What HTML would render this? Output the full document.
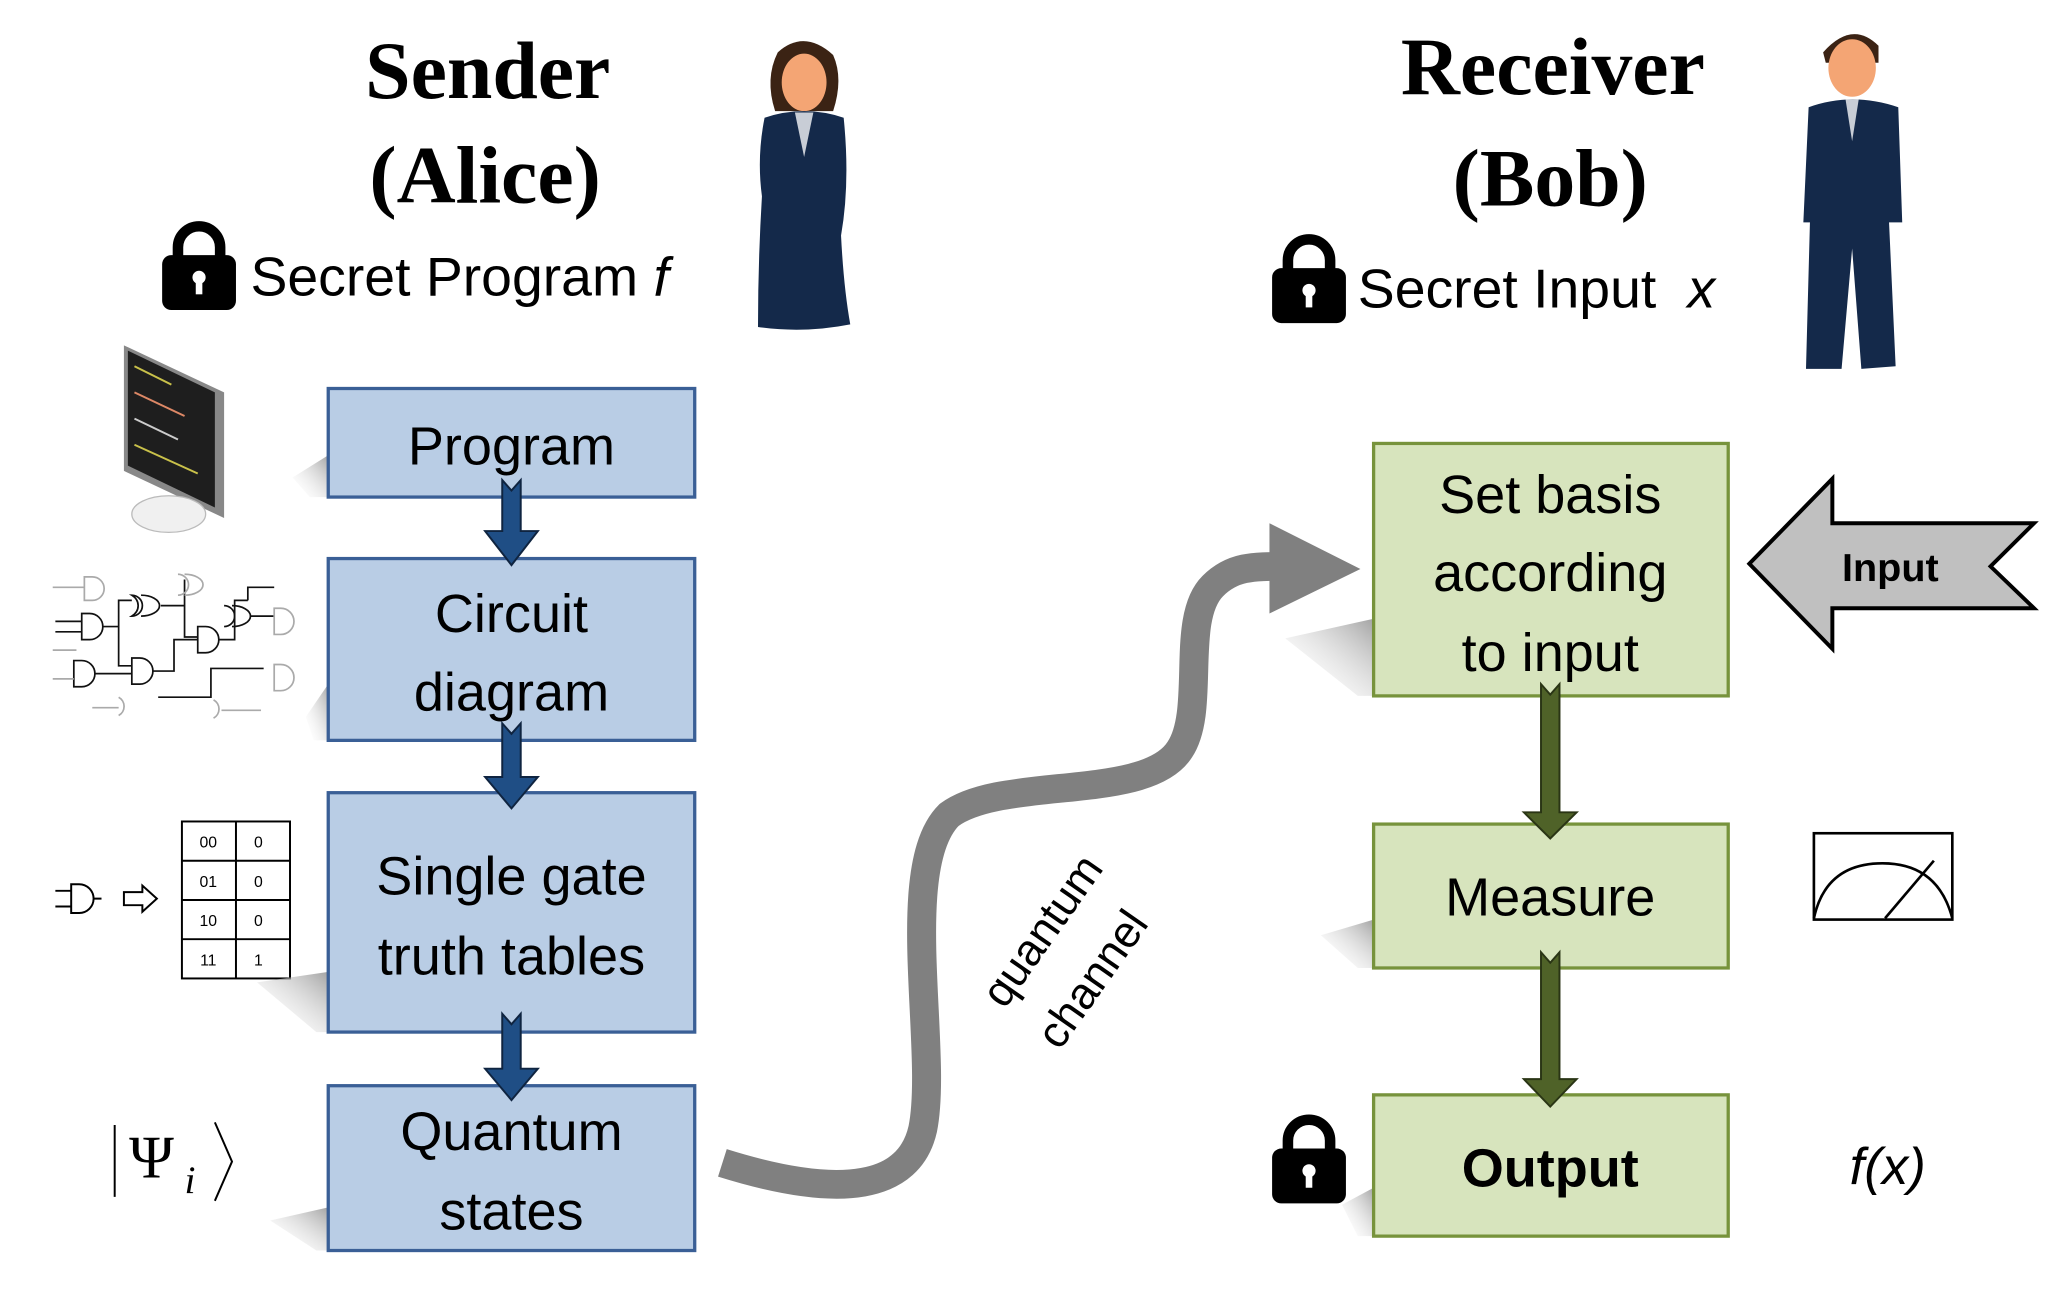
<!DOCTYPE html>
<html><head><meta charset="utf-8"><style>
html,body{margin:0;padding:0;background:#fff;}
svg{display:block;}
text{font-family:"Liberation Sans",sans-serif;}
</style></head><body>
<svg width="2067" height="1295" viewBox="0 0 1568 990" preserveAspectRatio="none" xmlns="http://www.w3.org/2000/svg">
<defs>
<linearGradient id="sh" x1="1" y1="0" x2="0" y2="1"><stop offset="0" stop-color="#999" stop-opacity="0.9"/><stop offset="1" stop-color="#fff" stop-opacity="0"/></linearGradient>
<g id="lock"><path d="M12 30 V22 a16 16 0 0 1 32 0 V30" fill="none" stroke="#000" stroke-width="8"/><rect x="0" y="28" width="56" height="42" rx="7" fill="#000"/><circle cx="28" cy="45" r="5" fill="#fff"/><rect x="25.5" y="46" width="5" height="12" fill="#fff"/></g>
</defs>
<g transform="translate(0,3)">
<!-- titles -->
<text x="370" y="72" font-weight="bold" font-size="62" text-anchor="middle" style="font-family:'Liberation Serif',serif">Sender</text>
<text x="368" y="152" font-weight="bold" font-size="62" text-anchor="middle" style="font-family:'Liberation Serif',serif">(Alice)</text>
<use href="#lock" x="123" y="164"/>
<text x="190" y="223" font-size="42">Secret Program <tspan font-style="italic">f</tspan></text>
<text x="1178" y="69" font-weight="bold" font-size="62" text-anchor="middle" style="font-family:'Liberation Serif',serif">Receiver</text>
<text x="1176" y="154" font-weight="bold" font-size="62" text-anchor="middle" style="font-family:'Liberation Serif',serif">(Bob)</text>
<use href="#lock" x="965" y="174"/>
<text x="1030" y="232" font-size="42">Secret Input <tspan dx="12" font-style="italic">x</tspan></text>
<!-- Alice -->
<path d="M590 37 Q610 19 632 39 Q640 57 632 82 L588 82 Q580 57 590 37Z" fill="#3b2314"/>
<ellipse cx="610" cy="60" rx="17" ry="22" fill="#f4a574"/>
<path d="M580 87 Q610 77 640 87 Q645 137 638 177 Q640 217 645 245 Q610 252 575 247 Q575 197 578 147 Q574 117 580 87Z" fill="#14294a"/>
<path d="M603 83 L610 117 L617 83Z" fill="#c8cdd6"/>
<!-- Bob -->
<path d="M1383 37 Q1405 12 1425 32 L1425 45 L1385 45Z" fill="#3b2314"/>
<ellipse cx="1405" cy="49" rx="18" ry="22" fill="#f4a574"/>
<path d="M1372 79 Q1405 67 1440 79 L1443 167 L1433 167 L1438 277 L1412 279 L1405 187 L1397 279 L1370 279 L1373 167 L1368 167Z" fill="#14294a"/>
<path d="M1400 73 L1405 105 L1410 73Z" fill="#c8cdd6"/>
<!-- monitor -->
<polygon points="94,261 170,297 170,393 94,357" fill="#888"/>
<polygon points="97,265 163,297 163,385 97,353" fill="#1e1e1e"/>
<g stroke-width="1.5"><line x1="102" y1="277" x2="130" y2="291" stroke="#c9c14a"/><line x1="102" y1="297" x2="140" y2="315" stroke="#d86"/><line x1="102" y1="317" x2="135" y2="333" stroke="#ccc"/><line x1="102" y1="337" x2="150" y2="359" stroke="#c9c14a"/></g>
<ellipse cx="128" cy="390" rx="28" ry="14" fill="#f0f0f0" stroke="#bbb"/>
<!-- circuit -->
<g fill="none" stroke="#111" stroke-width="1.3">
<path d="M42 472 h20 M42 480 h20 M62 466 h6 a10 10 0 0 1 0 20 h-6z M78 476 h12 v-20 h10 M90 476 v30 h10"/>
<path d="M100 452 a8 8 0 0 1 0 16 a12 10 0 0 0 0 -16z M107 452 a14 8 0 0 1 0 16 M122 460 h18 v-20 M140 460 v24 h10"/>
<path d="M150 476 h6 a10 10 0 0 1 0 20 h-6z M166 486 h12 v-30 h10 M188 456 v-10 h20"/>
<path d="M56 502 h6 a10 10 0 0 1 0 20 h-6z M72 512 h28 M100 500 h6 a10 10 0 0 1 0 20 h-6z M116 510 h16 v-24 h18"/>
<path d="M170 460 a8 8 0 0 1 0 16 M176 460 a14 8 0 0 1 0 16 M190 468 h18 M120 530 h40 v-22 h40"/>
</g>
<g fill="none" stroke="#aaa" stroke-width="1.3">
<path d="M40 446 h24 M64 438 h6 a9 9 0 0 1 0 18 h-6z M40 494 h18 M40 516 h16 M208 462 h5 a10 10 0 0 1 0 20 h-5z M208 505 h5 a10 10 0 0 1 0 20 h-5z M135 436 a8 8 0 0 1 0 16 M140 436 a14 8 0 0 1 0 16 M90 530 a8 8 0 0 1 0 14 M162 532 a8 8 0 0 1 0 14 M70 538 h20 M168 540 h30"/>
</g>
<!-- gate + truth table -->
<path d="M42 678 h12 M42 690 h12 M54 673 h6 a11 11 0 0 1 0 22 h-6z M71 684 h6" fill="none" stroke="#000" stroke-width="1.5"/>
<path d="M94 679 h14 v-5 l11 10 l-11 10 v-5 h-14z" fill="#fff" stroke="#000" stroke-width="1.5"/>
<g fill="none" stroke="#000" stroke-width="1.5"><rect x="138" y="625" width="82" height="120"/><line x1="179" y1="625" x2="179" y2="745"/><line x1="138" y1="655" x2="220" y2="655"/><line x1="138" y1="685" x2="220" y2="685"/><line x1="138" y1="715" x2="220" y2="715"/></g>
<g font-size="12" text-anchor="middle"><text x="158" y="645">00</text><text x="196" y="645">0</text><text x="158" y="675">01</text><text x="196" y="675">0</text><text x="158" y="705">10</text><text x="196" y="705">0</text><text x="158" y="735">11</text><text x="196" y="735">1</text></g>
<!-- psi -->
<line x1="87" y1="857" x2="87" y2="912" stroke="#000" stroke-width="1.5"/>
<text x="98" y="897" font-size="46" style="font-family:'Liberation Serif',serif">Ψ</text>
<text x="140" y="909" font-size="30" font-style="italic" style="font-family:'Liberation Serif',serif">i</text>
<path d="M163 855 L176 885 L163 915" fill="none" stroke="#000" stroke-width="1.5"/>
<!-- shadows -->
<g fill="url(#sh)">
<polygon points="249,345 249,377 235,377 222,362"/>
<polygon points="249,520 249,563 238,563 232,545"/>
<polygon points="249,740 249,786 240,786 195,748"/>
<polygon points="249,920 249,953 240,953 205,930"/>
<polygon points="1042,470 1042,529 1030,529 975,485"/>
<polygon points="1042,700 1042,737 1030,737 1002,712"/>
<polygon points="1042,905 1042,942 1030,942 1018,918"/>
</g>
<!-- blue boxes -->
<g fill="#b9cde5" stroke="#3a5f96" stroke-width="2.5">
<rect x="249" y="294" width="278" height="83"/>
<rect x="249" y="424" width="278" height="139"/>
<rect x="249" y="603" width="278" height="183"/>
<rect x="249" y="827" width="278" height="126"/>
</g>
<g font-size="41" text-anchor="middle">
<text x="388" y="352">Program</text>
<text x="388" y="480">Circuit</text><text x="388" y="540">diagram</text>
<text x="388" y="681">Single gate</text><text x="388" y="742">truth tables</text>
<text x="388" y="876">Quantum</text><text x="388" y="937">states</text>
</g>
<!-- blue arrows -->
<g fill="#1f4e85" stroke="#0f2440" stroke-width="1.5">
<polygon points="381,364 388,372 395,364 395,403 408,403 388,429 368,403 381,403"/>
<polygon points="381,550 388,558 395,550 395,591 408,591 388,615 368,591 381,591"/>
<polygon points="381,772 388,780 395,772 395,814 408,814 388,838 368,814 381,814"/>
</g>
<!-- quantum channel -->
<path d="M548 886 C640 915 690 905 700 860 C712 800 680 660 720 620 C760 590 870 610 895 570 C915 540 895 470 920 445 C935 430 950 430 975 430" fill="none" stroke="#808080" stroke-width="22"/>
<polygon points="963,397 1032,432 963,466" fill="#808080"/>
<text x="0" y="0" font-size="34" text-anchor="middle" transform="translate(800,715) rotate(-55)">quantum</text>
<text x="0" y="0" font-size="34" text-anchor="middle" transform="translate(838,752) rotate(-55)">channel</text>
<!-- green boxes -->
<g fill="#d7e4bd" stroke="#77933c" stroke-width="2.5">
<rect x="1042" y="336" width="269" height="193"/>
<rect x="1042" y="627" width="269" height="110"/>
<rect x="1042" y="834" width="269" height="108"/>
</g>
<g font-size="41" text-anchor="middle">
<text x="1176" y="389">Set basis</text><text x="1176" y="449">according</text><text x="1176" y="510">to input</text>
<text x="1176" y="697">Measure</text>
<text x="1176" y="904" font-weight="bold">Output</text>
</g>
<g fill="#4f6228" stroke="#2a3515" stroke-width="1.5">
<polygon points="1169,520 1176,528 1183,520 1183,618 1196,618 1176,638 1156,618 1169,618"/>
<polygon points="1169,725 1176,733 1183,725 1183,822 1196,822 1176,843 1156,822 1169,822"/>
</g>
<!-- input arrow -->
<polygon points="1327,428 1390,363 1390,397 1543,397 1510,430 1543,462 1390,462 1390,493" fill="#c0c0c0" stroke="#000" stroke-width="3"/>
<text x="1434" y="441" font-size="30" font-weight="bold" text-anchor="middle">Input</text>
<!-- meter -->
<rect x="1376" y="634" width="105" height="66" fill="#fff" stroke="#000" stroke-width="2"/>
<path d="M1376 699 Q1385 657 1428 657 Q1470 657 1481 699" fill="none" stroke="#000" stroke-width="2"/>
<line x1="1430" y1="699" x2="1467" y2="655" stroke="#000" stroke-width="2"/>
<use href="#lock" x="965" y="847"/>
<text x="1432" y="902" font-size="40" font-style="italic" text-anchor="middle">f(x)</text>
</g>
</svg>
</body></html>
